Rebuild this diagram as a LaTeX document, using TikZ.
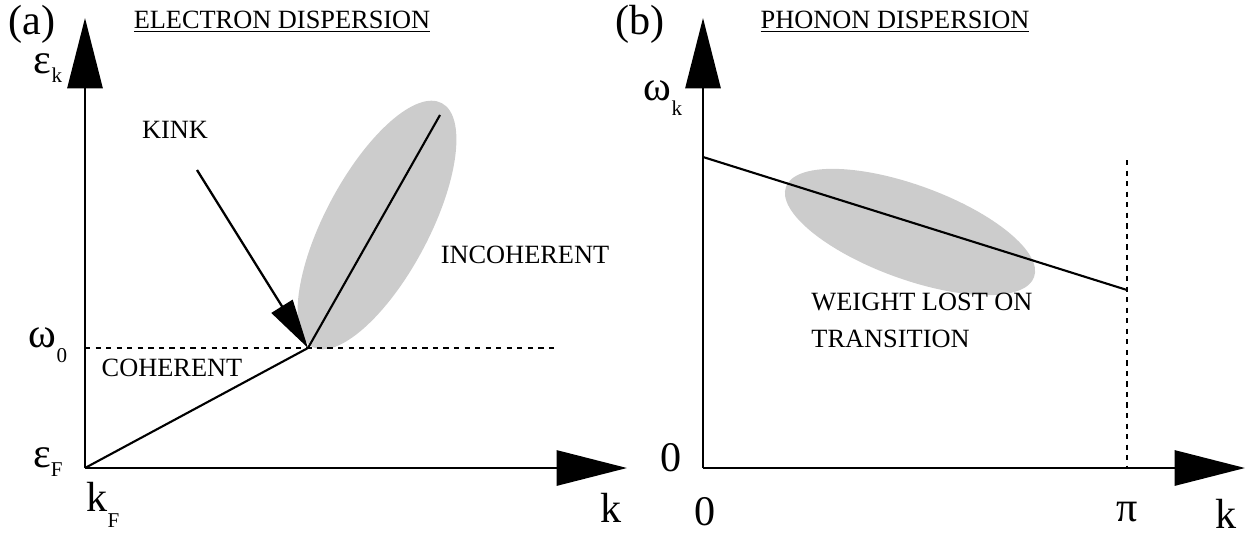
\documentclass[tikz,border=0pt]{standalone}
\usepackage{fontspec}
\setmainfont{Liberation Serif}
\usetikzlibrary{arrows.meta}
\begin{document}
\begin{tikzpicture}[x=0.02cm,y=-0.02cm,
  axis/.style={line width=1.3pt,-{Triangle[length=40pt,width=20pt]}},
  lbl/.style={font=\fontsize{15}{17}\selectfont,inner sep=0pt},
  big/.style={font=\fontsize{24}{26}\selectfont,inner sep=0pt}]
\useasboundingbox (0,0) rectangle (1250,537);
% panel (a)
\coordinate (o1) at (85,468);
\coordinate (kink) at (308,348);
\coordinate (top) at (440,115);
\fill[gray!40,rotate around={62:(377,225)}] (377,225) ellipse (138 and 52);
\draw[axis] (o1) -- (85,18);
\draw[axis] (o1) -- (627,468);
\draw[dashed,line width=0.8pt] (85,348) -- (555,348);
\draw[line width=1.2pt] (o1) -- (kink) -- (top);
\coordinate (kinktail) at (197,170);
\draw[line width=1.3pt,-{Triangle[length=28pt,width=14pt]}] (kinktail) -- (kink);
\node[big] (la) at (32,24) {(a)};
\node[lbl] (ta) at (282,22) {\underline{ELECTRON DISPERSION}};
\node[big] (ek) at (48,68) {ε\raisebox{-0.5ex}{\fontsize{12}{12}\selectfont k}};
\node[lbl] (kinkl) at (175,130) {KINK};
\node[lbl] (inco) at (525,255) {INCOHERENT};
\node[big] (w0) at (48,345) {ω\raisebox{-0.8ex}{\fontsize{12}{12}\selectfont 0}};
\node[lbl] (coh) at (172,368) {COHERENT};
\node[big] (ef) at (48,462) {ε\raisebox{-0.5ex}{\fontsize{12}{12}\selectfont F}};
\node[big] (kf) at (103,505) {k\raisebox{-0.8ex}{\fontsize{12}{12}\selectfont F}};
\node[big] (ka) at (611,508) {k};
% panel (b)
\coordinate (o2) at (703,468);
\coordinate (b0) at (703,157);
\coordinate (bpi) at (1127,290);
\fill[gray!40,rotate around={-20:(910,232)}] (910,232) ellipse (132 and 47);
\draw[axis] (o2) -- (703,18);
\draw[axis] (o2) -- (1245,468);
\draw[dashed,line width=0.8pt] (1127,160) -- (1127,468);
\draw[line width=1.2pt] (b0) -- (bpi);
\node[big] (lb) at (640,24) {(b)};
\node[lbl] (tb) at (895,22) {\underline{PHONON DISPERSION}};
\node[big] (wk) at (663,98) {ω\raisebox{-0.8ex}{\fontsize{12}{12}\selectfont k}};
\node[lbl,align=left] (wl) at (922,320) {WEIGHT LOST ON\\[4pt]TRANSITION};
\node[big] (zy) at (671,458) {0};
\node[big] (zx) at (705,512) {0};
\node[big] (pi) at (1127,512) {π};
\node[big] (kb) at (1226,514) {k};
\end{tikzpicture}
\end{document}
